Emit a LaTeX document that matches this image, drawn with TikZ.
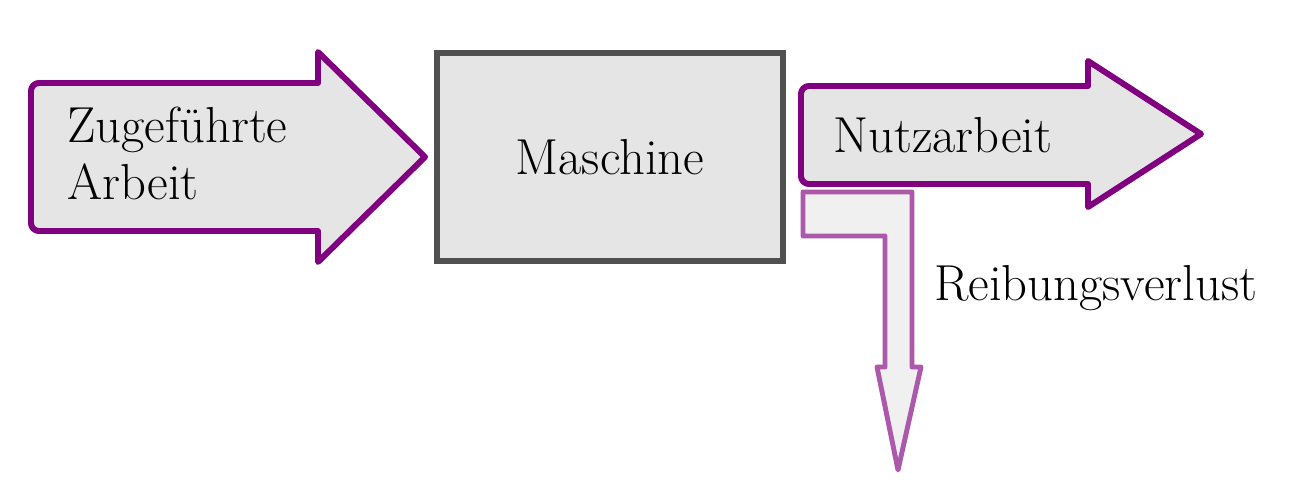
\documentclass[tikz,border=0pt]{standalone}
\usepackage{fontspec}
\usetikzlibrary{calc}
\definecolor{flowpurple}{RGB}{128,0,128}
\definecolor{boxgray}{RGB}{80,80,80}
\tikzset{
  flow/.style={draw=flowpurple, fill=gray!20, line width=3.4pt, line join=round},
  loss/.style={draw=flowpurple!65, fill=gray!12, line width=2.8pt, line join=round},
  machine/.style={draw=boxgray, fill=gray!20, line width=3.4pt, minimum width=6.94cm, minimum height=4.16cm},
  flowtext/.style={inner sep=0pt, anchor=west, align=left}
}
\begin{document}
\begin{tikzpicture}[x=0.02cm, y=-0.02cm, font=\fontsize{28.8}{32.4}\selectfont]
    \useasboundingbox (0,0) rectangle (1306,500);
    \draw[flow] (31,157) [rounded corners=4.5pt] -- (31,83) [sharp corners] -- (318,83) -- (318,52)
        -- (425,157) -- (318,262) -- (318,231) [rounded corners=4.5pt] -- (31,231) -- cycle;
    \node[machine] (maschine) at (610,157) {Maschine};
    \draw[loss] (803,192) -- (912,192) -- (912,367) -- (921,367) -- (898,470) -- (877,367)
        -- (885,367) -- (885,236) -- (803,236) -- cycle;
    \draw[flow] (801,135) [rounded corners=4.5pt] -- (801,86) [sharp corners] -- (1088,86) -- (1088,61)
        -- (1201,134) -- (1088,207) -- (1088,184) [rounded corners=4.5pt] -- (801,184) -- cycle;
    \node[flowtext] (zugefuehrt) at (67,153) {Zugeführte\\Arbeit};
    \node[flowtext] (nutzarbeit) at (833,135) {Nutzarbeit};
    \node[flowtext] (reibung) at (934,288) {Reibungsverlust};
\end{tikzpicture}
\end{document}
